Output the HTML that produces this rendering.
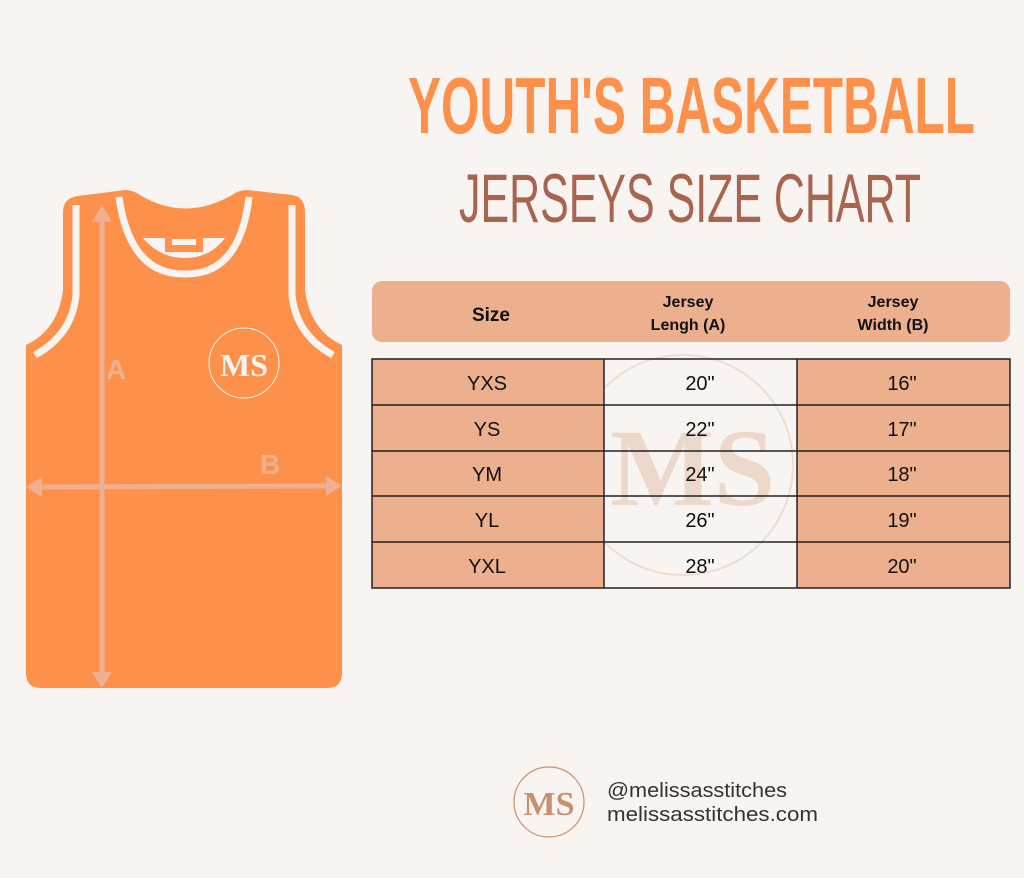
<!DOCTYPE html>
<html><head><meta charset="utf-8"><style>
html,body{margin:0;padding:0;background:#f8f4f1;}
svg{display:block}
</style></head><body>
<svg width="1024" height="878" viewBox="0 0 1024 878" xmlns="http://www.w3.org/2000/svg" font-family="Liberation Sans, sans-serif">
<rect width="1024" height="878" fill="#f8f4f1"/>
<text x="408" y="133" font-size="80" font-weight="bold" fill="#fd914b" textLength="567" lengthAdjust="spacingAndGlyphs">YOUTH'S BASKETBALL</text>
<text x="459" y="222" font-size="69" fill="#a8644d" textLength="462" lengthAdjust="spacingAndGlyphs">JERSEYS SIZE CHART</text>
<path d="M78 196 L125 190 Q133 190 140 195 Q185 222 232 195 Q239 190 247 190 L292 195 Q305 197 305 212 L305 290 Q310 330 342 345 L342 673 Q342 688 327 688 L41 688 Q26 688 26 673 L26 345 Q58 330 63 290 L63 212 Q63 198 78 196 Z" fill="#fd914b"/>
<path d="M76 205 L76 295 Q72 335 35 355" stroke="#f8f4f1" stroke-width="7" fill="none"/>
<path d="M292 205 L292 295 Q296 335 333 355" stroke="#f8f4f1" stroke-width="7" fill="none"/>
<path d="M119 197 Q130 275 185 274 Q240 275 249 197" stroke="#f8f4f1" stroke-width="7" fill="none"/>
<path d="M143 238 L225 238 Q210 258 185 258 Q160 258 143 238 Z" fill="#f8f4f1"/>
<rect x="165" y="237" width="38" height="15" fill="#fd914b"/>
<rect x="172" y="239" width="24" height="6" fill="#f8f4f1"/>
<circle cx="244" cy="363" r="35" fill="none" stroke="#f8f4f1" stroke-width="1"/>
<text x="244" y="376" text-anchor="middle" font-family="Liberation Serif, serif" font-size="32" fill="#f8f4f1" font-weight="bold">MS</text>
<g stroke="#eeb08f" stroke-width="5" fill="#eeb08f">
<line x1="102" y1="212" x2="102" y2="676"/>
<line x1="36" y1="487" x2="332" y2="486"/>
</g>
<g fill="#eeb08f">
<polygon points="102,205 92,222 112,222"/>
<polygon points="102,688 92,672 112,672"/>
<polygon points="26,487 42,477 42,497"/>
<polygon points="342,486 326,476 326,496"/>
<text x="106" y="379" font-size="28" font-weight="bold">A</text>
<text x="260" y="474" font-size="28" font-weight="bold">B</text>
</g>
<rect x="372" y="281" width="638" height="61" rx="10" fill="#edb08e"/>
<g font-weight="bold" font-size="16" fill="#111" text-anchor="middle">
<text x="491" y="321" font-size="19">Size</text>
<text x="688" y="307">Jersey</text><text x="688" y="330">Lengh (A)</text>
<text x="893" y="307">Jersey</text><text x="893" y="330">Width (B)</text>
</g>
<rect x="372" y="359" width="232" height="229" fill="#edb08e"/>
<rect x="604" y="359" width="193" height="229" fill="#f8f4f1"/>
<rect x="797" y="359" width="213" height="229" fill="#edb08e"/>
<g opacity="0.35">
<circle cx="683" cy="465" r="110" fill="none" stroke="#e0b594" stroke-width="2"/>
<text x="610" y="505" font-family="Liberation Serif, serif" font-size="110" font-weight="bold" fill="#d9a98a">MS</text>
</g>
<g stroke="#222" stroke-width="1.5" fill="none">
<rect x="372" y="359" width="638" height="229"/>
<line x1="604" y1="359" x2="604" y2="588"/><line x1="797" y1="359" x2="797" y2="588"/>
<line x1="372" y1="405" x2="1010" y2="405"/><line x1="372" y1="451" x2="1010" y2="451"/>
<line x1="372" y1="496" x2="1010" y2="496"/><line x1="372" y1="542" x2="1010" y2="542"/>
</g>
<g font-size="20" fill="#111" text-anchor="middle">
<text x="487" y="390">YXS</text><text x="700" y="390">20"</text><text x="902" y="390">16"</text>
<text x="487" y="436">YS</text><text x="700" y="436">22"</text><text x="902" y="436">17"</text>
<text x="487" y="481">YM</text><text x="700" y="481">24"</text><text x="902" y="481">18"</text>
<text x="487" y="527">YL</text><text x="700" y="527">26"</text><text x="902" y="527">19"</text>
<text x="487" y="573">YXL</text><text x="700" y="573">28"</text><text x="902" y="573">20"</text>
</g>
<circle cx="549" cy="802" r="35" fill="none" stroke="#c9906f" stroke-width="1.2"/>
<text x="549" y="815" text-anchor="middle" font-family="Liberation Serif, serif" font-size="34" font-weight="bold" fill="#c9906f">MS</text>
<text x="607" y="797" font-size="20" fill="#333" textLength="180" lengthAdjust="spacingAndGlyphs">@melissasstitches</text>
<text x="607" y="821" font-size="20" fill="#333" textLength="211" lengthAdjust="spacingAndGlyphs">melissasstitches.com</text>
</svg>
</body></html>
